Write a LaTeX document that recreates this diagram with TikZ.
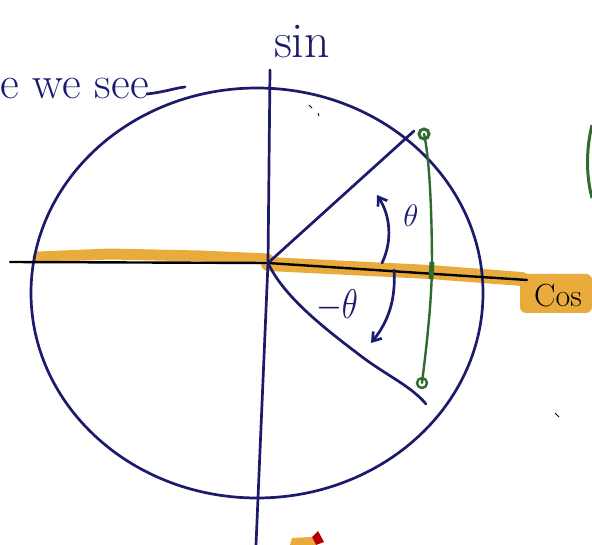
\documentclass[tikz,border=0pt]{standalone}
\usetikzlibrary{arrows.meta}
\definecolor{ink}{HTML}{1B1A6B}
\definecolor{hl}{HTML}{E9AC3C}
\definecolor{grn}{HTML}{2F6A30}
\tikzset{
  pen/.style={draw=ink, line width=2.7pt, line cap=round, line join=round},
  blackpen/.style={draw=black, line width=2.4pt, line cap=round},
  greenpen/.style={draw=grn, line width=2.4pt, line cap=round},
  marker/.style={draw=hl, line width=11pt, line cap=round, line join=round},
  hand/.style={text=ink, inner sep=0pt, font=\fontsize{46}{46}\selectfont},
  greek/.style={text=ink, inner sep=0pt, font=\fontsize{20}{20}\selectfont}
}
\begin{document}
\begin{tikzpicture}[x=1pt,y=-1pt]
\useasboundingbox (0,0) rectangle (592,545);
% highlighter band
\draw[marker] (38,257) -- (110,254) -- (200,256) -- (268,259);
\draw[marker, line width=14pt] (268,264) -- (430,272) -- (522,279);
\fill[hl, rounded corners=6pt] (520,274) rectangle (592,313);
% coordinates
\coordinate (O) at (268,263);
\coordinate (P) at (414,131);
\coordinate (Q) at (426,404);
\coordinate (G1) at (424,134);
\coordinate (GA) at (432,268);
\coordinate (G2) at (422,383);
\coordinate (XL) at (10,262);
\coordinate (XR) at (527,280);
\coordinate (YT) at (270,70);
\coordinate (YB) at (256,545);
% circle
\draw[pen] (257,293) ellipse [x radius=226, y radius=205];
% axes
\draw[blackpen] (XL) -- (O) -- (XR);
\draw[pen] (YT) -- (O) -- (YB);
% rays
\draw[pen] (O) -- (P);
\draw[pen] (O) .. controls (283,295) and (320,325) .. (357,353) .. controls (385,375) and (410,385) .. (Q);
% green chord
\draw[greenpen] (G1) .. controls (430,160) and (432,220) .. (GA) .. controls (431,310) and (426,350) .. (G2);
\draw[greenpen, line width=3pt] (G1) circle [radius=5];
\draw[greenpen] (G2) circle [radius=5];
\draw[grn, line width=5pt] (432,262) -- (431,279);
% angle arrows
\draw[pen, -{Straight Barb[length=8pt,width=11pt]}] (382,263) .. controls (393,240) and (390,215) .. (377,195);
\draw[pen, -{Straight Barb[length=8pt,width=11pt]}] (394,270) .. controls (396,300) and (388,322) .. (371,343);
% labels
\node[greek, scale=1.5] (th) at (411,216) {$\theta$};
\node[greek, xscale=1.6, yscale=2.0] (mth) at (337,306) {$-\theta$};
\node[hand, font=\fontsize{50}{50}\selectfont] (sin) at (302,42) {sin};
\node[hand, anchor=base west] (wesee) at (0,99) {e we see};
\draw[pen] (wesee.base east) ++(-2,-5) .. controls (165,92) and (175,88) .. (185,87);
\node[inner sep=0pt, font=\fontsize{32}{32}\selectfont, anchor=west] (cos) at (534,296) {Cos};
% right edge green stroke
\draw[grn, line width=3pt] (592,125) .. controls (586,150) and (586,175) .. (592,198);
% bottom stray mark
\fill[hl] (290,545) -- (292,538) -- (312,537) -- (316,545) -- cycle;
\fill[red!70!black] (312,537) -- (318,531) -- (324,542) -- (316,545) -- cycle;
% small stray ticks
\draw[black, line width=0.8pt] (309,105) -- (312,108);
\draw[black, line width=0.8pt] (318,113) -- (319,116);
\draw[black, line width=1pt] (555,413) -- (559,417);
\end{tikzpicture}
\end{document}
